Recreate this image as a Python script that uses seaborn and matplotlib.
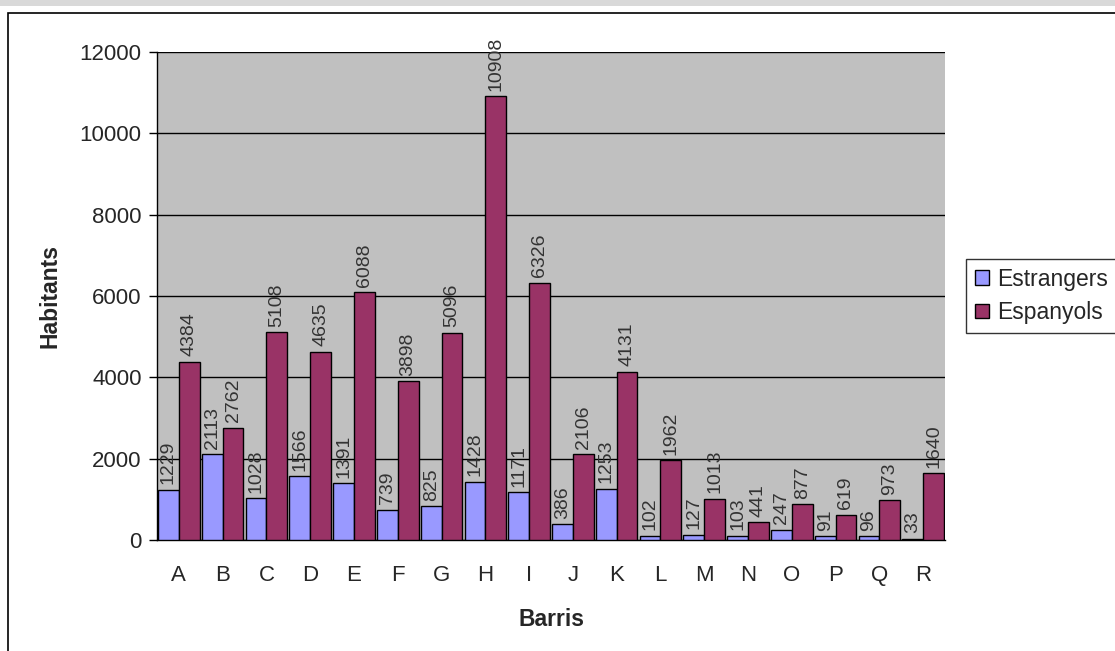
import seaborn as sns
import pandas as pd
import numpy as np
import matplotlib.pyplot as plt
from matplotlib.patches import Rectangle

barris = list("ABCDEFGHIJKLMNOPQR")
estrangers = [1229, 2113, 1028, 1566, 1391, 739, 825, 1428, 1171, 386, 1253, 102, 127, 103, 247, 91, 96, 33]
espanyols = [4384, 2762, 5108, 4635, 6088, 3898, 5096, 10908, 6326, 2106, 4131, 1962, 1013, 441, 877, 619, 973, 1640]
series = ["Estrangers", "Espanyols"]
colors = ["#9999FF", "#993366"]

df = pd.DataFrame({
    "Barris": barris * 2,
    "Habitants": estrangers + espanyols,
    "Serie": [series[0]] * len(barris) + [series[1]] * len(barris),
})

sns.set_style("white")
plt.rcParams['font.family'] = ['Liberation Sans', 'DejaVu Sans']

fig = plt.figure(figsize=(11.15, 6.51), dpi=100)
# top strip and outer chart frame
fig.patches.append(Rectangle((0, 1 - 6 / 651), 1, 6 / 651, transform=fig.transFigure,
                             facecolor="#D9D9D9", edgecolor="none", zorder=0))
fig.patches.append(Rectangle((8 / 1115, -0.1), 1.2, 1.1 - 13 / 651, transform=fig.transFigure,
                             facecolor="none", edgecolor="black", linewidth=1.2, zorder=1))

ax = fig.add_axes([157 / 1115, 1 - 540 / 651, 788 / 1115, 488 / 651])
ax.set_facecolor("#C0C0C0")
sns.barplot(data=df, x="Barris", y="Habitants", hue="Serie", palette=colors,
            width=0.95, gap=0, edgecolor="black", linewidth=1, saturation=1, ax=ax, zorder=3)

for cont in ax.containers:
    ax.bar_label(cont, rotation=90, padding=4, fontsize=14, color="#333333")

ax.set_ylim(0, 12000)
ax.set_yticks(np.arange(0, 12001, 2000))
ax.yaxis.grid(True, color="black", linewidth=1)
ax.set_axisbelow(True)
ax.set_xlim(-0.5, len(barris) - 0.5)
ax.set_xticks(np.arange(-0.5, len(barris), 1), minor=True)
ax.tick_params(axis="x", which="major", length=0, labelsize=16, pad=18)
ax.tick_params(axis="x", which="minor", length=8, width=1, color="black", direction="out")
ax.tick_params(axis="y", length=6, width=1, color="black", direction="out", labelsize=16, left=True, pad=5)

for side in ["top", "right"]:
    ax.spines[side].set_visible(False)
for side in ["left", "bottom"]:
    ax.spines[side].set_color("black")
    ax.spines[side].set_linewidth(1)

ax.set_xlabel("Barris", fontsize=16.5, fontweight="bold", labelpad=16)
ax.set_ylabel("Habitants", fontsize=16.5, fontweight="bold", labelpad=13)

ax.legend(title=None, loc="center left", bbox_to_anchor=(966 / 1115, 1 - 296 / 651),
          bbox_transform=fig.transFigure, borderaxespad=0, frameon=True, fancybox=False,
          edgecolor="black", fontsize=16.5, handlelength=0.6, handleheight=0.6,
          handletextpad=0.35, borderpad=0.4, labelspacing=0.45)

fig.savefig("out.png", dpi=100)
